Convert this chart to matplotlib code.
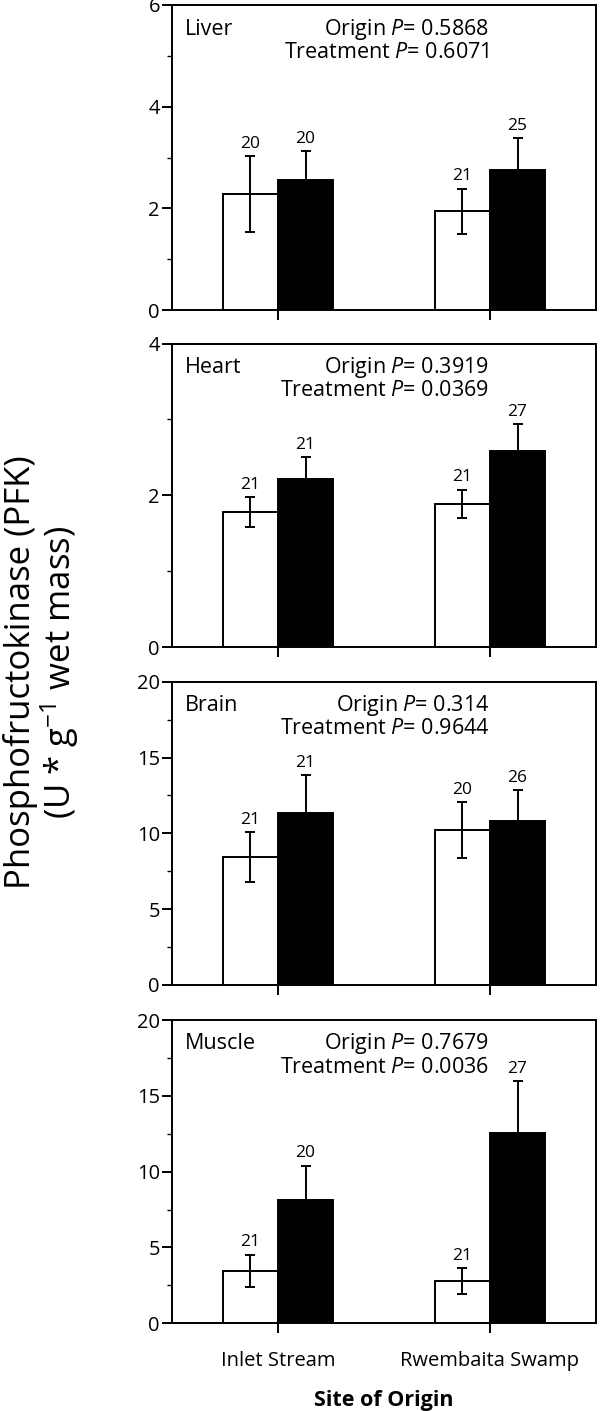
import matplotlib
matplotlib.use("Agg")
import matplotlib.pyplot as plt
from matplotlib.ticker import MultipleLocator
import numpy as np

plt.rcParams['font.family'] = ['Open Sans', 'DejaVu Sans']
plt.rcParams['mathtext.fontset'] = 'custom'
plt.rcParams['mathtext.rm'] = 'Open Sans'
plt.rcParams['mathtext.it'] = 'Open Sans:italic'
plt.rcParams['mathtext.bf'] = 'Open Sans:bold'

# ---- data ----
sites = ["Inlet Stream", "Rwembaita Swamp"]
tissues = ["Liver", "Heart", "Brain", "Muscle"]
ymax = [6, 4, 20, 20]
major_step = [2, 2, 5, 5]
minor_step = [1, 1, 2.5, 2.5]

control_liver = [2.28, 1.94]
control_heart = [1.78, 1.89]
control_brain = [8.44, 10.22]
control_muscle = [3.47, 2.77]
control_err_liver = [0.75, 0.45]
control_err_heart = [0.20, 0.185]
control_err_brain = [1.65, 1.85]
control_err_muscle = [1.05, 0.86]

treat_liver = [2.56, 2.75]
treat_heart = [2.22, 2.59]
treat_brain = [11.34, 10.81]
treat_muscle = [8.11, 12.57]
treat_err_liver = [0.56, 0.63]
treat_err_heart = [0.28, 0.345]
treat_err_brain = [2.50, 2.05]
treat_err_muscle = [2.28, 3.39]

n_control = [[20, 21], [21, 21], [21, 20], [21, 21]]
n_treat = [[20, 25], [21, 27], [21, 26], [20, 27]]

origin_p = ["0.5868", "0.3919", "0.314", "0.7679"]
treatment_p = ["0.6071", "0.0369", "0.9644", "0.0036"]

control_means = [control_liver, control_heart, control_brain, control_muscle]
control_errs = [control_err_liver, control_err_heart, control_err_brain, control_err_muscle]
treat_means = [treat_liver, treat_heart, treat_brain, treat_muscle]
treat_errs = [treat_err_liver, treat_err_heart, treat_err_brain, treat_err_muscle]

# ---- layout ----
W, H = 600, 1411
fig = plt.figure(figsize=(W / 100, H / 100), dpi=100)
left_px, right_px = 172, 596
panels_px = [(5, 310), (343.5, 647.3), (681.7, 985), (1020, 1323.3)]

x = np.arange(len(sites))
bw = 0.26
lw = 1.4

for i, tissue in enumerate(tissues):
    top, bot = panels_px[i]
    ax = fig.add_axes([left_px / W, 1 - bot / H, (right_px - left_px) / W, (bot - top) / H])
    cm, ce = control_means[i], control_errs[i]
    tm, te = treat_means[i], treat_errs[i]
    ax.bar(x - bw / 2, cm, width=bw, color='white', edgecolor='black', linewidth=lw, zorder=2)
    ax.bar(x + bw / 2, tm, width=bw, color='black', edgecolor='black', linewidth=lw, zorder=2)
    ax.errorbar(x - bw / 2, cm, yerr=ce, fmt='none', ecolor='black', elinewidth=lw,
                capsize=3.3, capthick=lw, zorder=3)
    ax.errorbar(x + bw / 2, tm, yerr=te, fmt='none', ecolor='black', elinewidth=lw,
                capsize=3.3, capthick=lw, zorder=3)
    for j in range(len(sites)):
        ax.annotate(str(n_control[i][j]), (x[j] - bw / 2, cm[j] + ce[j]), xytext=(0, 6),
                    textcoords='offset points', ha='center', va='baseline', fontsize=12.5)
        ax.annotate(str(n_treat[i][j]), (x[j] + bw / 2, tm[j] + te[j]), xytext=(0, 6),
                    textcoords='offset points', ha='center', va='baseline', fontsize=12.5)
    ax.set_xlim(-0.5, 1.5)
    ax.set_ylim(0, ymax[i])
    ax.yaxis.set_major_locator(MultipleLocator(major_step[i]))
    ax.yaxis.set_minor_locator(MultipleLocator(minor_step[i]))
    ax.set_xticks(x)
    ax.tick_params(axis='both', which='major', direction='out', length=7.2, width=lw,
                   labelsize=14.5, pad=1.5)
    ax.tick_params(axis='y', which='minor', direction='out', length=3.6, width=lw * 0.7)
    ax.tick_params(axis='x', which='major', pad=12.5)
    if i == len(tissues) - 1:
        ax.set_xticklabels(sites, fontsize=14.5)
        ax.set_xlabel("Site of Origin", fontsize=15.5, fontweight='bold', labelpad=14)
    else:
        ax.set_xticklabels([])
    for s in ax.spines.values():
        s.set_linewidth(lw)
    ax.text(0.031, 0.921, tissue, transform=ax.transAxes, ha='left', va='center', fontsize=15.5)
    ax.text(0.748, 0.921, "Origin $\\mathit{P}$= " + origin_p[i], transform=ax.transAxes,
            ha='right', va='center', fontsize=15.5)
    ax.text(0.748, 0.845, "Treatment $\\mathit{P}$= " + treatment_p[i], transform=ax.transAxes,
            ha='right', va='center', fontsize=15.5)

fig.text(42 / W, 1 - 672 / H, "Phosphofructokinase (PFK)\n(U * g$^{-1}$ wet mass)",
         rotation=90, ha='center', va='center', multialignment='center', fontsize=25,
         linespacing=1.0)

fig.savefig("out.png", dpi=100)
